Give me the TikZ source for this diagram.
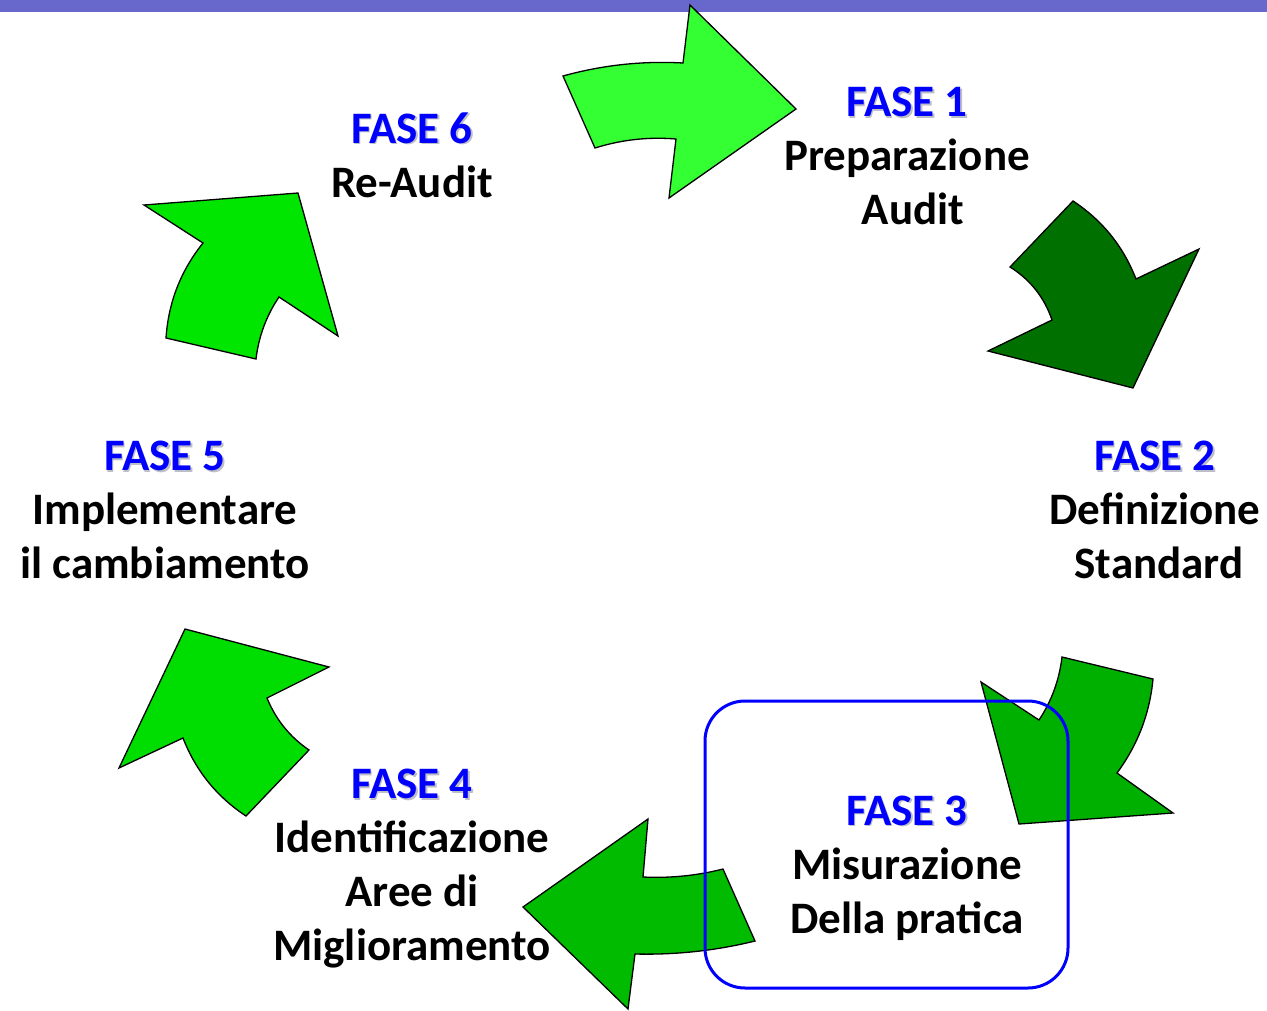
\documentclass[tikz,border=0pt]{standalone}
\usepackage{fontspec}
\setmainfont{Carlito}
\definecolor{band}{RGB}{103,103,204}
\definecolor{faseblue}{RGB}{0,0,255}
\definecolor{shadowgray}{RGB}{190,190,200}
\definecolor{aone}{RGB}{51,255,51}
\definecolor{atwo}{RGB}{0,112,0}
\definecolor{athree}{RGB}{0,176,0}
\definecolor{afour}{RGB}{0,187,0}
\definecolor{afive}{RGB}{0,221,0}
\definecolor{asix}{RGB}{0,230,0}
\newcommand\fasetxt[1]{\makebox[0pt][l]{\hspace{1.5pt}\raisebox{-1.5pt}{\textcolor{shadowgray}{#1}}}\textcolor{faseblue}{#1}}
\begin{document}
\begin{tikzpicture}[x=1pt,y=-1pt,
  arr/.style={draw=black, line width=1.3pt, line join=miter},
  lbl/.style={font=\fontsize{45}{54}\selectfont\bfseries, align=center, inner sep=0pt}]
\useasboundingbox (0,0) rectangle (1267,1010);
\fill[band] (0,0) rectangle (1267,12);
% arrow 1 (top)
\draw[arr, fill=aone] (563,76) -- (595,148) .. controls (621.4,139.7) and (648.4,136.7) .. (676,139) -- (669,198) -- (796,109) -- (690,5) -- (683,63) .. controls (642.3,60.7) and (602.3,65.1) .. (563,76) -- cycle;
% arrow 2
\draw[arr, fill=atwo] (1073,201) .. controls (1102.3,220.3) and (1123.3,246.3) .. (1136,279) -- (1199,249) -- (1133,388) -- (988,351) -- (1052,320) .. controls (1044.3,297.4) and (1030.3,279.7) .. (1010,267) -- cycle;
% arrow 3
\draw[arr, fill=athree] (1062,657) -- (1153,679) .. controls (1149.7,713.7) and (1137.7,745) .. (1117,773) -- (1173,813) -- (1019,824) -- (981,682) -- (1039,720) .. controls (1051.7,700.8) and (1059.3,679.8) .. (1062,657) -- cycle;
% arrow 4
\draw[arr, fill=afour] (723,869) -- (755,941) .. controls (715.6,950.7) and (675.6,955) .. (635,954) -- (628,1009) -- (523,907) -- (648,819) -- (643,877) .. controls (670.1,878.3) and (696.7,875.7) .. (723,869) -- cycle;
% arrow 5
\draw[arr, fill=afive] (185,629) -- (329,667) -- (267,698) .. controls (275.8,719.5) and (289.8,736.9) .. (309,750) -- (246,816) .. controls (216.7,796.7) and (195.7,770.7) .. (183,738) -- (119,768) -- cycle;
% arrow 6
\draw[arr, fill=asix] (144,205) -- (298,193) -- (338,336) -- (279,297) .. controls (266.3,315.8) and (258.7,336.5) .. (256,359) -- (166,338) .. controls (168.4,302.5) and (180.7,270.8) .. (203,243) -- cycle;
% highlight box
\node[draw=faseblue, line width=3pt, rounded corners=40pt, minimum width=363pt, minimum height=287pt, inner sep=0pt] (box) at (886.5,844.5) {};
% labels
\node[lbl] (f1) at (907,156) {\fasetxt{FASE 1}\\Preparazione\\\hspace*{12pt}Audit};
\node[lbl] (f2) at (1155,510) {\fasetxt{FASE 2}\\Definizione\\\hspace*{8pt}Standard};
\node[lbl] (f3) at (907,868) {\fasetxt{FASE 3}\\Misurazione\\Della pratica};
\node[lbl] (f4) at (412,869) {\fasetxt{FASE 4}\\Identificazione\\Aree di\hspace*{6pt}\\Miglioramento};
\node[lbl] (f5) at (165,510) {\fasetxt{FASE 5}\\Implementare\\il cambiamento};
\node[lbl] (f6) at (412,155) {\fasetxt{FASE 6}\\Re-Audit};
\end{tikzpicture}
\end{document}
